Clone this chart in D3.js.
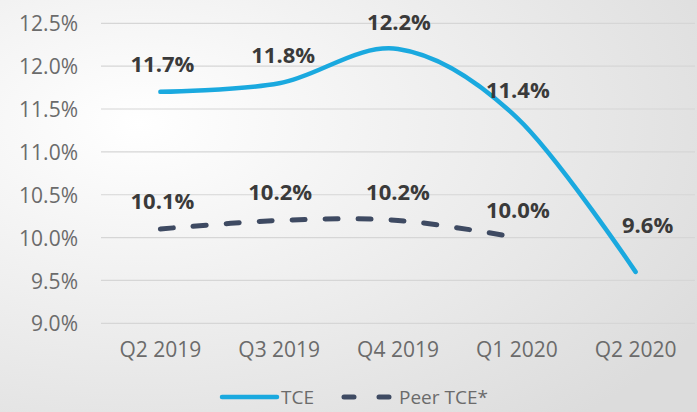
<!DOCTYPE html>
<html>
<head>
<meta charset="utf-8">
<script src="https://cdn.jsdelivr.net/npm/d3@7"></script>
<style>
  html, body { margin: 0; padding: 0; }
  body { width: 697px; height: 412px; overflow: hidden; }
  .tick text { font-family: "Open Sans", sans-serif; }
</style>
</head>
<body>
<div id="chart"></div>
<script>
// data
var quarters = ["Q2 2019", "Q3 2019", "Q4 2019", "Q1 2020", "Q2 2020"];
var tce = [11.7, 11.8, 12.2, 11.4, 9.6];
var peerTce = [10.1, 10.2, 10.2, 10.0];
var yTicks = [9.0, 9.5, 10.0, 10.5, 11.0, 11.5, 12.0, 12.5];
var seriesNames = ["TCE", "Peer TCE*"];

var width = 697;
var height = 412;

var svg = d3
  .select("#chart")
  .append("svg")
  .attr("width", width)
  .attr("height", height);

// soft grey background
var defs = svg.append("defs");
var grad = defs
  .append("radialGradient")
  .attr("id", "bg")
  .attr("cx", "0.2")
  .attr("cy", "0.3")
  .attr("r", "0.95");
grad.append("stop").attr("offset", "0%").attr("stop-color", "#ffffff");
grad.append("stop").attr("offset", "100%").attr("stop-color", "#dcdcdc");

svg
  .append("rect")
  .attr("width", width)
  .attr("height", height)
  .attr("fill", "url(#bg)");

var xScale = d3.scaleBand().domain(quarters).range([101, 695]);
var yScale = d3.scaleLinear().domain([9.0, 12.5]).range([323.3, 23.3]);

function xPos(i) {
  return xScale(quarters[i]) + xScale.bandwidth() / 2;
}

// gridlines
svg
  .append("g")
  .selectAll("line")
  .data(yTicks)
  .enter()
  .append("line")
  .attr("x1", 101)
  .attr("x2", 695)
  .attr("y1", function(d) { return yScale(d); })
  .attr("y2", function(d) { return yScale(d); })
  .attr("stroke", "#d6d6d6")
  .attr("stroke-width", 1.2);

var yAxis = d3
  .axisLeft(yScale)
  .tickValues(yTicks)
  .tickSize(0)
  .tickPadding(0)
  .tickFormat(function(d) { return d3.format(".1f")(d) + "%"; });

var gy = svg
  .append("g")
  .attr("transform", "translate(78,0)")
  .call(yAxis);
gy.select(".domain").remove();
gy.selectAll("text")
  .attr("fill", "#6b6b6b")
  .attr("font-size", "21px")
  .attr("dy", "0.36em");

var xAxis = d3.axisBottom(xScale).tickSize(0).tickPadding(0);
var gx = svg
  .append("g")
  .attr("transform", "translate(0,342)")
  .call(xAxis);
gx.select(".domain").remove();
gx.selectAll("text")
  .attr("fill", "#6b6b6b")
  .attr("font-size", "21px")
  .attr("dy", "0.71em");

var line = d3
  .line()
  .x(function(d, i) { return xPos(i); })
  .y(function(d) { return yScale(d); })
  .curve(d3.curveCatmullRom.alpha(0));

svg
  .append("path")
  .datum(peerTce)
  .attr("d", line)
  .attr("fill", "none")
  .attr("stroke", "#3e4a62")
  .attr("stroke-width", 5)
  .attr("stroke-linecap", "round")
  .attr("stroke-dasharray", "13,20");

svg
  .append("path")
  .datum(tce)
  .attr("d", line)
  .attr("fill", "none")
  .attr("stroke", "#1aa9df")
  .attr("stroke-width", 4.5)
  .attr("stroke-linecap", "round");

// value labels
var tceOffsets = [-20, -20, -19, -20, -39];
var tceDx = [2, 4, 1, 1, 12];
var peerOffsets = [-20, -20, -20, -20];
var peerDx = [2, 1, 0, 1];

function addLabels(values, offsets, dxs) {
  svg
    .append("g")
    .selectAll("text")
    .data(values)
    .enter()
    .append("text")
    .attr("x", function(d, i) { return xPos(i) + dxs[i]; })
    .attr("y", function(d, i) { return yScale(d) + offsets[i]; })
    .attr("text-anchor", "middle")
    .attr("font-family", "Open Sans, sans-serif")
    .attr("font-weight", "bold")
    .attr("font-size", "22px")
    .attr("fill", "#3a3a3a")
    .text(function(d) { return d3.format(".1f")(d) + "%"; });
}
addLabels(tce, tceOffsets, tceDx);
addLabels(peerTce, peerOffsets, peerDx);

// legend
var legend = svg.append("g").attr("transform", "translate(0,397)");
legend
  .append("line")
  .attr("x1", 222)
  .attr("x2", 277)
  .attr("stroke", "#1aa9df")
  .attr("stroke-width", 4.5)
  .attr("stroke-linecap", "round");
legend
  .append("text")
  .attr("x", 281)
  .attr("y", 0)
  .attr("dy", "0.36em")
  .attr("font-family", "Open Sans, sans-serif")
  .attr("font-size", "19px")
  .attr("fill", "#6b6b6b")
  .text(seriesNames[0]);
legend
  .append("line")
  .attr("x1", 344)
  .attr("x2", 390)
  .attr("stroke", "#3e4a62")
  .attr("stroke-width", 5)
  .attr("stroke-linecap", "round")
  .attr("stroke-dasharray", "10,25");
legend
  .append("text")
  .attr("x", 399)
  .attr("y", 0)
  .attr("dy", "0.36em")
  .attr("font-family", "Open Sans, sans-serif")
  .attr("font-size", "19px")
  .attr("fill", "#6b6b6b")
  .text(seriesNames[1]);
</script>
</body>
</html>
